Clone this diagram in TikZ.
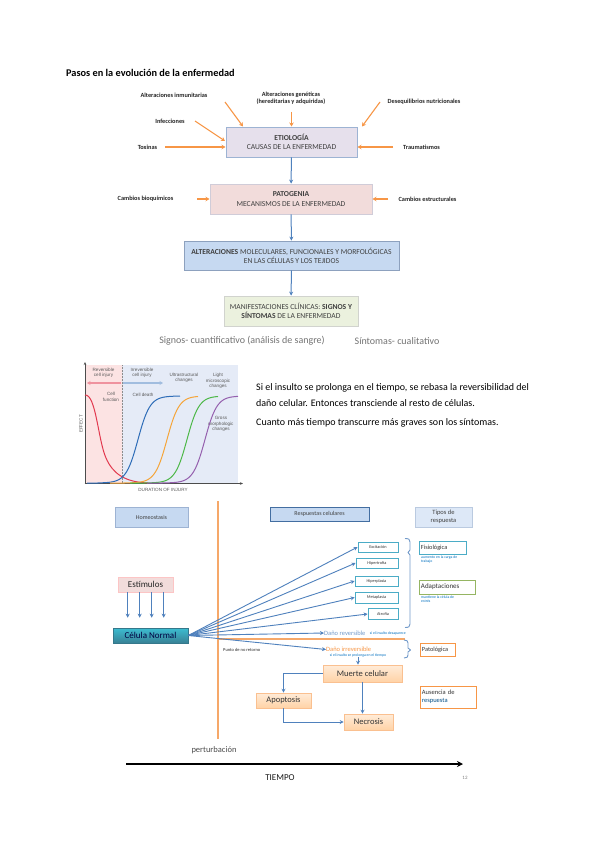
\documentclass[tikz,border=0pt]{standalone}
\usepackage{fontspec}
\setmainfont{Carlito}
\setsansfont{Liberation Sans}
\usetikzlibrary{arrows.meta,calc}
\definecolor{oarr}{HTML}{F79646}
\definecolor{barr}{HTML}{4F81BD}
\definecolor{txtg}{HTML}{404040}
\definecolor{etiof}{HTML}{E6E0EC}
\definecolor{patof}{HTML}{F2DCDB}
\definecolor{altf}{HTML}{C6D9F1}
\definecolor{manf}{HTML}{EBF1DE}
\definecolor{boxb}{HTML}{9DB3D3}
\definecolor{grpink}{HTML}{FCE3E3}
\definecolor{grblue}{HTML}{E5EBF7}
\definecolor{cred}{HTML}{E2394F}
\definecolor{cblue}{HTML}{2E6DB8}
\definecolor{corange}{HTML}{F5A53A}
\definecolor{cgreen}{HTML}{4DB848}
\definecolor{cpurple}{HTML}{9560AE}
\definecolor{teal}{HTML}{4BACC6}
\definecolor{note}{HTML}{0070C0}
\definecolor{vline}{HTML}{F6A869}
\newcommand{\fsz}[2]{\fontsize{#1}{#2}\selectfont}
\begin{document}
\begin{tikzpicture}[x=1pt,y=-1pt,
  lab/.style={font=\bfseries\fsz{6.3}{7.3}, text=black!85, inner sep=0, align=center},
  fbox/.style={draw=boxb, line width=0.8pt, inner sep=0, align=center, text=txtg, font=\fsz{7.6}{9.2}},
  oarrow/.style={draw=oarr, line width=1.1pt, -{Stealth[length=4pt,width=4.5pt]}},
  barrow/.style={draw=barr, line width=1pt, -{Stealth[length=4pt,width=4pt]}},
  glab/.style={font=\sffamily\fsz{4.6}{5.4}, text=black!65, inner sep=0, align=center},
  resp/.style={draw=teal, line width=0.8pt, fill=white, inner sep=0, font=\fsz{4.3}{5}, text=black!80},
  tipo/.style={line width=0.9pt, fill=white, inner sep=1.5pt, align=left, font=\fsz{6.3}{7.5}, text=black!80},
  tiny/.style={font=\fsz{3.8}{4.4}, text=note, inner sep=0, align=left},
  obox/.style={draw=oarr!60, line width=0.6pt, top color=orange!15, bottom color=orange!35, inner sep=0, font=\fsz{8.5}{10}, text=black!80},
  hbox/.style={line width=0.8pt, inner sep=0, align=center, font=\fsz{6}{7}, text=black!75},
  rtext/.style={anchor=west, font=\fsz{10}{12}, text=black, inner sep=0}
]
\useasboundingbox (0,0) rectangle (599,848);
\fill[white] (0,0) rectangle (599,848);

% ---------- title ----------
\node[anchor=west, font=\bfseries\fsz{10.3}{12}, inner sep=0] (title) at (66,73) {Pasos en la evolución de la enfermedad};

% ---------- flowchart ----------
\node[fbox, fill=etiof, minimum width=131pt, minimum height=30pt] (etio) at (291.5,142) {\textbf{ETIOLOGÍA}\\CAUSAS DE LA ENFERMEDAD};
\node[fbox, fill=patof, draw=patof!60!boxb, minimum width=162pt, minimum height=30pt] (pato) at (291,199) {\textbf{PATOGENIA}\\MECANISMOS DE LA ENFERMEDAD};
\node[fbox, fill=altf, draw=boxb!90!black, minimum width=215pt, minimum height=29pt] (alt) at (291.5,255.5) {\textbf{ALTERACIONES} MOLECULARES, FUNCIONALES Y MORFOLÓGICAS\\EN LAS CÉLULAS Y LOS TEJIDOS};
\node[fbox, fill=manf, draw=manf!60!black!40, minimum width=134pt, minimum height=30pt] (man) at (291,311) {MANIFESTACIONES CLÍNICAS: \textbf{SIGNOS Y}\\\textbf{SÍNTOMAS} DE LA ENFERMEDAD};

\draw[barrow] (etio) -- (pato);
\draw[barrow] (pato) -- (alt);
\draw[barrow] (alt) -- (man);

\node[lab] (inmu) at (174,95) {Alteraciones inmunitarias};
\node[lab] (gen) at (291,98) {Alteraciones genéticas\\(hereditarias y adquiridas)};
\node[lab] (deseq) at (424,101.5) {Desequilibrios nutricionales};
\node[lab] (infe) at (170,121) {Infecciones};
\node[lab] (tox) at (147.5,147) {Toxinas};
\node[lab] (trau) at (421.5,147) {Traumatismos};
\node[lab] (bioq) at (145.5,199) {Cambios bioquímicos};
\node[lab] (estr) at (427.5,199) {Cambios estructurales};

\coordinate (ai1) at (225,102); \coordinate (ai2) at (243,126.5);
\coordinate (ag1) at (291.5,112); \coordinate (ag2) at (291.5,126.5);
\coordinate (ad1) at (380,102); \coordinate (ad2) at (362,126.5);
\coordinate (af1) at (195,121); \coordinate (af2) at (225,141);
\coordinate (at1) at (165,147); \coordinate (at2) at (225.5,147);
\coordinate (ar1) at (393,147); \coordinate (ar2) at (357.5,147);
\coordinate (ab1) at (197,199); \coordinate (ab2) at (209.5,199);
\coordinate (ae1) at (388,199); \coordinate (ae2) at (372.5,199);
\draw[oarrow] (ai1) -- (ai2);
\draw[oarrow] (ag1) -- (ag2);
\draw[oarrow] (ad1) -- (ad2);
\draw[oarrow] (af1) -- (af2);
\draw[oarrow] (at1) -- (at2);
\draw[oarrow] (ar1) -- (ar2);
\draw[oarrow] (ab1) -- (ab2);
\draw[oarrow] (ae1) -- (ae2);

\node[font=\fsz{10}{12}, text=black!55, inner sep=0] (signos) at (242,341) {Signos- cuantificativo (análisis de sangre)};
\node[font=\fsz{10}{12}, text=black!55, inner sep=0] (sint) at (397,341) {Síntomas- cualitativo};

% ---------- graph ----------
\fill[grpink] (85,365) rectangle (122,483);
\fill[grblue] (122,365) rectangle (238,483);
\draw[densely dotted, black!45, line width=0.5pt] (122,365) -- (122,483);
\draw[line width=0.6pt, draw=black!70, -{Stealth[length=3pt,width=2.5pt]}] (85,484) -- (85,362);
\draw[line width=0.6pt, draw=black!70, -{Stealth[length=3pt,width=2.5pt]}] (84.5,483.5) -- (243,483.5);
\draw[line width=1.4pt, draw=cred!55, -{Stealth[length=3.5pt,width=4pt]}] (121,383) -- (87,383);
\draw[line width=1.4pt, draw=cblue!45, -{Stealth[length=3.5pt,width=4pt]}] (123,383) -- (163,383);

\node[glab] (rev) at (103.5,373) {Reversible\\cell injury};
\node[glab] (irr) at (142,373) {Irreversible\\cell injury};
\node[glab] (ultra) at (184,378) {Ultrastructural\\changes};
\node[glab] (light) at (218,381) {Light\\microscopic\\changes};
\node[glab] (cfun) at (111,397) {Cell\\function};
\node[glab] (cdeath) at (143,394.5) {Cell death};
\node[glab] (gross) at (221,424) {Gross\\morphologic\\changes};
\node[glab, rotate=90] (effect) at (81,424) {EFFECT};
\node[glab] (dur) at (163,490) {DURATION OF INJURY};

\draw[cred, line width=1pt] (85,395) .. controls (96,394) and (98,440) .. (106,458) .. controls (113,474) and (125,482) .. (148,483);
\draw[cblue, line width=1pt] (87,483) -- (98,483) -- plot[domain=98:180, samples=60] (\x, {483 - 87/(1+exp(-(\x-138)/6))});
\draw[corange, line width=1pt] (110,483) -- (124,483) -- plot[domain=124:198, samples=60] (\x, {483 - 87/(1+exp(-(\x-167)/6))});
\draw[cgreen, line width=1pt] (130,483) -- (144,483) -- plot[domain=144:218, samples=60] (\x, {483 - 87/(1+exp(-(\x-187)/6))});
\draw[cpurple, line width=1pt] (147,483) -- (162,483) -- plot[domain=162:238, samples=60] (\x, {483 - 87/(1+exp(-(\x-205)/6))});

% ---------- right text ----------
\node[rtext] (t1) at (256,388) {Si el insulto se prolonga en el tiempo, se rebasa la reversibilidad del};
\node[rtext] (t2) at (256,403) {daño celular. Entonces transciende al resto de células.};
\node[rtext] (t3) at (256,422.5) {Cuanto más tiempo transcurre más graves son los síntomas.};

% ---------- bottom diagram ----------
\coordinate (vl1) at (218,501); \coordinate (vl2) at (218,739);
\draw[vline, line width=1.3pt] (vl1) -- (vl2);
\coordinate (hl1) at (218,639); \coordinate (hl2) at (405,639);
\draw[vline, line width=1.3pt] (hl1) -- (hl2);

\node[hbox, draw=boxb, fill=altf, minimum width=73pt, minimum height=20pt] (homeo) at (151.5,517) {Homeostasis};
\node[hbox, draw=barr!85!black, fill=altf, minimum width=99pt, minimum height=14pt] (respc) at (319.5,514) {Respuestas celulares};
\node[hbox, draw=boxb!70, fill=altf!60, minimum width=57pt, minimum height=20pt, font=\fsz{6.5}{7.5}] (tipos) at (443.5,517) {Tipos de\\respuesta};

\node[draw=patof!50!red!40, line width=0.6pt, fill=patof, minimum width=55pt, minimum height=15pt, inner sep=0, font=\fsz{9}{10}, text=black!85] (estim) at (145.5,584.5) {Estímulos};
\node[draw=teal!70!black, line width=0.6pt, top color=teal!80!cyan, bottom color=teal!75!black, minimum width=75pt, minimum height=15pt, inner sep=0, font=\fsz{9}{10}, text=blue!25!black] (celula) at (150.5,635.5) {Célula Normal};
\foreach \a/\b in {10/15,22/27,34/39,46/51}
  \draw[barrow] ([xshift=\a pt]estim.south west) -- ([xshift=\b pt, yshift=10pt]celula.north west);

\node[resp, minimum width=40pt, minimum height=10pt] (exc) at (378,547) {Excitación};
\node[resp, minimum width=42pt, minimum height=10pt] (hipt) at (377,563) {Hipertrofia};
\node[resp, minimum width=43pt, minimum height=10pt] (hipp) at (376.5,581) {Hiperplasia};
\node[resp, minimum width=43pt, minimum height=11pt] (meta) at (376.5,597.5) {Metaplasia};
\node[resp, minimum width=30pt, minimum height=11pt] (atro) at (383,614) {Atrofia};

\node[anchor=west, inner sep=0, font=\fsz{6.5}{7.5}, text=barr!80] (drev) at (324,633) {Daño reversible};
\node[tiny, anchor=west] (drevn) at ($(drev.east)+(4,0.5)$) {si el insulto desaparece};
\node[anchor=west, inner sep=0, font=\fsz{6.5}{7.5}, text=oarr] (dirr) at (326,649.5) {Daño irreversible};
\node[tiny, align=center] (dirrn) at (358,655.5) {si el insulto se prolonga en el tiempo};
\node[anchor=west, inner sep=0, font=\fsz{4.5}{5.2}, text=black!85] (pnr) at (223,650) {Punto de no retorno};

\foreach \t in {exc,hipt,hipp,meta,atro,drev,dirr}
  \draw[barrow, line width=0.9pt] (celula.east) -- (\t.west);

% brackets
\draw[barr!80, line width=0.9pt, line join=round] (405,538.5) .. controls (409,538.5) and (410,539.5) .. (410,542) -- (410,550) -- (408,552.5) -- (410,555) -- (410,624) .. controls (410,626.5) and (409,627.5) .. (405,627.5);
\draw[barr!80, line width=0.9pt, line join=round] (404,640) .. controls (407,640) and (408,641) .. (408,643) -- (408,648) -- (410.5,650) -- (408,652) -- (408,655) .. controls (408,657) and (407,658) .. (404,658);

\node[tipo, draw=teal, text width=44pt, minimum height=13pt, anchor=west] (fisio) at (419,547.5) {Fisiológica};
\node[tiny, anchor=north west] (fison) at (421,555.5) {aumento en la carga de\\trabajo};
\node[tipo, draw=cgreen!60!yellow!70!black!70, text width=53pt, minimum height=14pt, anchor=west, font=\fsz{7}{8}] (adap) at (419,587) {Adaptaciones};
\node[tiny, anchor=north west] (adapn) at (421,595.5) {mantiene la célula de\\estrés};
\node[tipo, draw=oarr, text width=32pt, minimum height=13pt, anchor=west] (pato2) at (420,649.5) {Patológica};
\node[tipo, draw=oarr, text width=53pt, minimum height=22pt, anchor=west, font=\fsz{6.5}{7.5}] (ause) at (420,697) {Ausencia de\\{\color{note!70!black}respuesta}};

\node[obox, minimum width=79pt, minimum height=17pt] (muerte) at (362.5,673.5) {Muerte celular};
\node[obox, minimum width=55pt, minimum height=15pt] (apo) at (283.5,700.5) {Apoptosis};
\node[obox, minimum width=49pt, minimum height=16pt] (necro) at (368.5,722) {Necrosis};

\draw[barrow] (dirrn.south) -- (dirrn.south |- muerte.north);
\draw[barrow] (muerte.west) -| (apo.north);
\draw[barrow] (apo.south) |- (necro.west);
\draw[barrow] (muerte.south) -- (muerte.south |- necro.north);

\node[font=\fsz{8.5}{10}, text=black!70, inner sep=0] (pert) at (214,750) {perturbación};
\coordinate (ti1) at (126,764); \coordinate (ti2) at (463,764);
\draw[line width=1.6pt, -{Stealth[length=6pt,width=6pt]}] (ti1) -- (ti2);
\node[font=\fsz{9}{10}, text=black!90, inner sep=0] (tiempo) at (280,777.5) {TIEMPO};
\node[font=\fsz{5}{6}, text=black!50, inner sep=0] (pg) at (465,778) {12};
\end{tikzpicture}
\end{document}
